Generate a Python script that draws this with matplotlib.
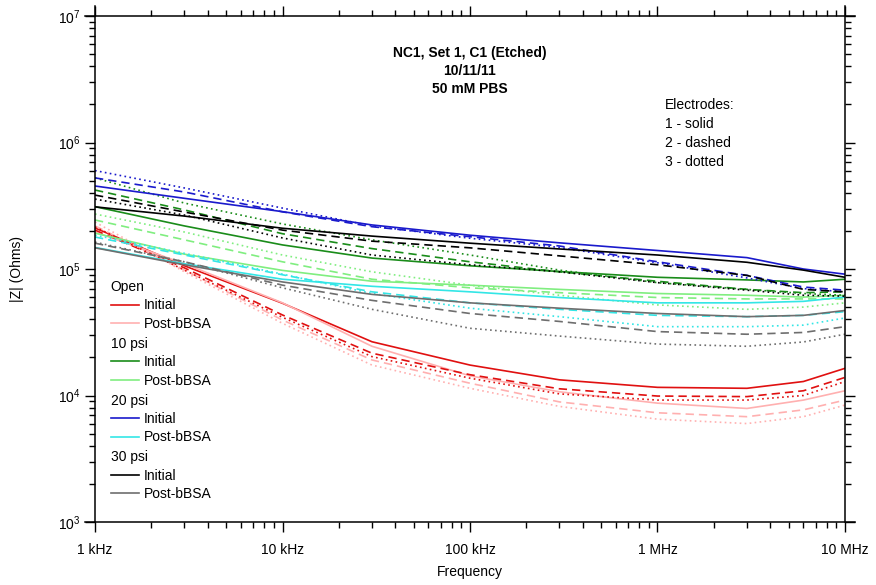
import matplotlib
matplotlib.use("Agg")
import matplotlib.pyplot as plt
from matplotlib.lines import Line2D
from matplotlib.legend import Legend
from matplotlib.ticker import FixedLocator, FixedFormatter, LogLocator

plt.rcParams['font.family'] = ['Liberation Sans', 'DejaVu Sans']
plt.rcParams['mathtext.default'] = 'regular'

# --- datos (Hz, Ohms) ---
freq = [1e3, 3e3, 1e4, 3e4, 1e5, 3e5, 1e6, 3e6, 6e6, 1e7]

# cada condicion: electrodo 1, 2, 3
open_initial = [
    [2.11e5, 1.06e5, 5.36e4, 2.66e4, 1.74e4, 1.33e4, 1.16e4, 1.14e4, 1.29e4, 1.64e4],
    [2.03e5, 1.02e5, 4.33e4, 2.16e4, 1.46e4, 1.13e4, 9.9e3, 9.8e3, 1.09e4, 1.39e4],
    [2.15e5, 9.8e4, 4.15e4, 2.03e4, 1.37e4, 1.03e4, 9.2e3, 9.2e3, 1.0e4, 1.29e4],
]
open_post = [
    [1.96e5, 1.1e5, 5.4e4, 2.45e4, 1.43e4, 1.07e4, 8.7e3, 7.9e3, 9.2e3, 1.09e4],
    [2.19e5, 9.8e4, 3.95e4, 1.91e4, 1.25e4, 8.9e3, 7.3e3, 6.8e3, 7.7e3, 9.2e3],
    [2.35e5, 9.5e4, 3.72e4, 1.74e4, 1.14e4, 8.2e3, 6.5e3, 6.0e3, 6.8e3, 8.4e3],
]
psi10_initial = [
    [3.11e5, 2.19e5, 1.55e5, 1.22e5, 1.06e5, 9.55e4, 8.6e4, 8.2e4, 7.9e4, 8.3e4],
    [4.21e5, 2.93e5, 1.9e5, 1.45e5, 1.14e5, 9.5e4, 8.0e4, 6.9e4, 6.5e4, 6.6e4],
    [5.25e5, 3.32e5, 2.27e5, 1.7e5, 1.29e5, 9.8e4, 7.8e4, 6.9e4, 6.4e4, 6.2e4],
]
psi10_post = [
    [1.92e5, 1.31e5, 9.75e4, 8.0e4, 7.45e4, 6.9e4, 6.4e4, 6.2e4, 6.0e4, 6.2e4],
    [2.44e5, 1.7e5, 1.14e5, 8.3e4, 7.1e4, 6.5e4, 5.95e4, 5.8e4, 5.8e4, 5.8e4],
    [2.72e5, 1.96e5, 1.29e5, 9.5e4, 7.45e4, 6.2e4, 5.2e4, 4.8e4, 5.0e4, 5.4e4],
]
psi20_initial = [
    [4.53e5, 3.62e5, 2.84e5, 2.23e5, 1.85e5, 1.61e5, 1.40e5, 1.23e5, 1.0e5, 9.1e4],
    [5.25e5, 4.06e5, 2.83e5, 2.16e5, 1.8e5, 1.52e5, 1.14e5, 8.9e4, 7.2e4, 6.8e4],
    [6.0e5, 4.37e5, 3.03e5, 2.19e5, 1.75e5, 1.48e5, 1.12e5, 8.5e4, 7.0e4, 6.6e4],
]
psi20_post = [
    [1.48e5, 1.1e5, 8.3e4, 7.3e4, 6.6e4, 5.95e4, 5.4e4, 5.4e4, 5.55e4, 6.0e4],
    [1.79e5, 1.29e5, 9.0e4, 6.6e4, 5.4e4, 4.8e4, 4.3e4, 4.2e4, 4.3e4, 4.6e4],
    [1.85e5, 1.33e5, 9.1e4, 6.4e4, 4.9e4, 4.2e4, 3.5e4, 3.5e4, 3.6e4, 4.1e4],
]
psi30_initial = [
    [3.1e5, 2.62e5, 2.1e5, 1.82e5, 1.6e5, 1.44e5, 1.29e5, 1.13e5, 9.8e4, 8.6e4],
    [3.84e5, 2.82e5, 2.03e5, 1.66e5, 1.47e5, 1.27e5, 1.08e5, 8.9e4, 6.9e4, 6.6e4],
    [3.57e5, 2.67e5, 1.76e5, 1.29e5, 1.08e5, 9.5e4, 7.8e4, 6.8e4, 6.2e4, 6.1e4],
]
psi30_post = [
    [1.47e5, 1.08e5, 7.9e4, 6.3e4, 5.4e4, 4.9e4, 4.45e4, 4.2e4, 4.3e4, 4.7e4],
    [1.6e5, 1.14e5, 7.45e4, 5.65e4, 4.45e4, 3.85e4, 3.2e4, 3.05e4, 3.15e4, 3.5e4],
    [1.63e5, 1.14e5, 7.1e4, 4.8e4, 3.4e4, 2.95e4, 2.55e4, 2.45e4, 2.65e4, 3.05e4],
]

group_names = ["Open", "10 psi", "20 psi", "30 psi"]
series = [
    (open_initial, open_post),
    (psi10_initial, psi10_post),
    (psi20_initial, psi20_post),
    (psi30_initial, psi30_post),
]
colors = [
    ("#e01010", "#ffb0b0"),
    ("#1a8c1a", "#80ee80"),
    ("#1a1acc", "#33e6e6"),
    ("#000000", "#6e6e6e"),
]
styles = ["-", (0, (5, 3)), (0, (1, 2))]

xticks = [1e3, 1e4, 1e5, 1e6, 1e7]
xticklabels = ["1 kHz", "10 kHz", "100 kHz", "1 MHz", "10 MHz"]

fig = plt.figure(figsize=(8.76, 5.85), dpi=100)
ax = fig.add_axes([95 / 876, 63 / 585, 750 / 876, 506 / 585])

for (init, post), (c_init, c_post) in zip(series, colors):
    for k in range(3):
        ax.plot(freq, init[k], color=c_init, ls=styles[k], lw=1.2)
        ax.plot(freq, post[k], color=c_post, ls=styles[k], lw=1.2)

ax.set_xscale("log")
ax.set_yscale("log")
ax.set_xlim(1e3, 1e7)
ax.set_ylim(1e3, 1e7)

ax.xaxis.set_major_locator(FixedLocator(xticks))
ax.xaxis.set_major_formatter(FixedFormatter(xticklabels))
ax.xaxis.set_minor_locator(LogLocator(base=10, subs=range(2, 10)))
ax.yaxis.set_minor_locator(LogLocator(base=10, subs=range(2, 10)))
ax.tick_params(which="both", direction="out", top=True, right=True, labelsize=10)
ax.tick_params(which="major", length=7, width=1)
ax.tick_params(which="minor", length=4, width=1)
ax.tick_params(axis="x", pad=8)
for s in ax.spines.values():
    s.set_linewidth(1.1)

# los ejes sobresalen un poco de las esquinas, como en el original
ext_x = 10 ** (10 / 187.5)
ext_y = 10 ** (10 / 126.5)
ax.spines["left"].set_bounds(1e3, 1e7 * ext_y)
ax.spines["right"].set_bounds(1e3, 1e7 * ext_y)
ax.spines["top"].set_bounds(1e3 / ext_x, 1e7 * ext_x)
ax.spines["bottom"].set_bounds(1e3 / ext_x, 1e7 * ext_x)

ax.set_xlabel("Frequency", fontsize=10, labelpad=6)
ax.set_ylabel("|Z| (Ohms)", fontsize=10, labelpad=24)

# titulo dentro del grafico
for i, t in enumerate(["NC1, Set 1, C1 (Etched)", "10/11/11", "50 mM PBS"]):
    ax.text(0.5, 0.927 - i * 0.0357, t, transform=ax.transAxes, ha="center",
            va="center", fontsize=10, fontweight="bold")

for i, t in enumerate(["Electrodes:", "1 - solid", "2 - dashed", "3 - dotted"]):
    ax.text(0.76, 0.824 - i * 0.0376, t, transform=ax.transAxes, ha="left",
            va="center", fontsize=10)

# leyenda por grupos (una por presion, con titulo a la izquierda)
for i, name in enumerate(group_names):
    c_init, c_post = colors[i]
    handles = [Line2D([], [], color=c_init, lw=1.2), Line2D([], [], color=c_post, lw=1.2)]
    top = (522 - (280 + 56.8 * i)) / 506
    leg = Legend(ax, handles, ["Initial", "Post-bBSA"], title=name, loc="upper left",
                 bbox_to_anchor=(0.021, top), frameon=False, fontsize=10,
                 title_fontsize=10, alignment="left", borderpad=0, borderaxespad=0,
                 labelspacing=0.32, handlelength=2.0, handletextpad=0.4)
    ax.add_artist(leg)

fig.savefig("out.png", dpi=100)
